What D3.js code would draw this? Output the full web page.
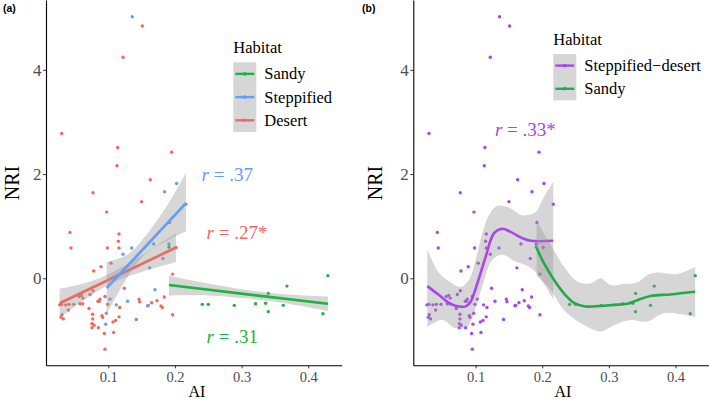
<!DOCTYPE html>
<html>
<head>
<meta charset="utf-8">
<script src="https://cdn.jsdelivr.net/npm/d3@7"></script>
<style>
  body { margin: 0; background: #fff; }
  text { font-family: "Liberation Serif", "Times New Roman", serif; }
</style>
</head>
<body>
<script>
// ---- data (AI, NRI) ----
let aiTicks = [0.1, 0.2, 0.3, 0.4];
let nriTicks = [0, 2, 4];

let desert = [
  [0.151,4.84],[0.122,4.24],[0.030,2.78],[0.114,2.51],[0.195,2.42],[0.113,2.16],[0.163,1.89],[0.077,1.64],
  [0.150,1.47],[0.0975,1.27],[0.192,1.07],[0.0425,0.88],[0.044,0.58],[0.116,0.85],[0.115,0.71],[0.116,0.58],
  [0.0985,0.58],[0.104,0.29],[0.089,0.22],[0.078,0.14],[0.124,-0.19],[0.2015,0.59],[0.1965,0.08],[0.1965,-0.70],
  [0.184,-0.36],[0.179,-0.53],[0.181,-0.56],[0.173,-0.43],[0.165,-0.47],[0.160,-0.52],[0.146,-0.40],[0.147,-0.45],
  [0.142,-0.79],[0.117,-0.56],[0.116,-0.74],[0.111,-0.81],[0.107,-0.84],[0.108,-1.04],[0.095,-1.36],[0.099,-0.50],
  [0.095,-0.35],[0.0875,-0.40],[0.0865,-0.44],[0.0905,-0.72],[0.0915,-0.75],[0.094,-1.06],[0.0845,-0.44],[0.085,-0.95],
  [0.0765,-0.69],[0.0765,-0.78],[0.0755,-0.95],[0.0785,-0.90],[0.071,-0.58],[0.0615,-0.49],[0.0575,-0.49],[0.0595,-0.33],
  [0.077,-0.24],[0.048,-0.50],[0.041,-0.50],[0.036,-0.51],[0.030,-0.50],[0.027,-0.51],[0.0305,-0.70],[0.029,-0.75],
  [0.0325,-0.78],[0.040,-0.61],[0.056,-0.35],[0.0755,-0.87],[0.0725,-0.31],[0.062,-0.38]
];
let steppified = [
  [0.136,5.02],[0.2025,1.82],[0.1845,1.66],[0.2165,1.42],[0.122,0.46],[0.135,0.58],[0.162,0.20],[0.168,0.66],
  [0.182,0.38],[0.191,0.66],[0.170,-0.22],[0.159,-0.53],[0.129,-0.44],[0.112,-0.51],[0.096,-0.88],[0.097,-0.67],
  [0.1025,-0.40]
];
let sandy = [
  [0.191,0.60],[0.241,-0.50],[0.250,-0.50],[0.289,-0.52],[0.321,-0.49],[0.336,-0.48],[0.340,-0.29],[0.340,-0.64],
  [0.3625,-0.52],[0.368,-0.15],[0.4295,0.05],[0.422,-0.68]
];

// panel (a): linear fits and their confidence bands
let desertFit = [[0.027,-0.48],[0.2015,0.59]];
let desertUp = [[0.027,-0.20],[0.06,-0.11],[0.09,0.02],[0.12,0.21],[0.15,0.44],[0.2015,0.87]];
let desertLo = [[0.027,-0.76],[0.06,-0.45],[0.09,-0.20],[0.12,-0.01],[0.15,0.12],[0.2015,0.31]];
let steppFit = [[0.0975,-0.19],[0.2165,1.44]];
let steppUp = [[0.0975,0.31],[0.13,0.46],[0.155,0.80],[0.19,1.43],[0.2165,2.02]];
let steppLo = [[0.0975,-0.69],[0.13,0.05],[0.155,0.46],[0.19,0.73],[0.2165,0.90]];
let sandyFit = [[0.191,-0.13],[0.4295,-0.49]];
let sandyUp = [[0.191,0.05],[0.25,-0.10],[0.31,-0.23],[0.37,-0.31],[0.4295,-0.35]];
let sandyLo = [[0.191,-0.33],[0.25,-0.33],[0.31,-0.39],[0.37,-0.49],[0.4295,-0.63]];

// panel (b): loess fits and bands
let sdLoess = [[0.0275,-0.15],[0.045,-0.32],[0.0625,-0.49],[0.075,-0.54],[0.085,-0.54],[0.0925,-0.45],[0.1025,-0.10],
  [0.115,0.41],[0.1275,0.86],[0.14,0.95],[0.1525,0.89],[0.17,0.77],[0.1825,0.72],[0.2165,0.72]];
let sdUp = [[0.0275,0.56],[0.045,0.10],[0.065,-0.10],[0.0775,-0.17],[0.09,-0.03],[0.1,0.35],[0.11,0.86],[0.12,1.21],
  [0.1325,1.39],[0.15,1.36],[0.17,1.21],[0.19,1.27],[0.2,1.5],[0.2165,1.85]];
let sdLo = [[0.0275,-0.93],[0.05,-0.80],[0.07,-0.96],[0.0875,-0.93],[0.0975,-0.67],[0.11,-0.16],[0.125,0.35],[0.14,0.45],
  [0.16,0.32],[0.18,0.22],[0.19,0.12],[0.2,-0.05],[0.2165,-0.40]];
let sandyLoess = [[0.1915,0.58],[0.2025,0.29],[0.2175,-0.03],[0.2325,-0.29],[0.2475,-0.47],[0.265,-0.54],[0.2875,-0.53],
  [0.3075,-0.51],[0.3275,-0.49],[0.3425,-0.42],[0.3625,-0.34],[0.3925,-0.31],[0.4295,-0.26]];
let sandyLUp = [[0.1915,1.12],[0.2025,0.86],[0.2175,0.54],[0.2325,0.22],[0.2525,-0.06],[0.2725,-0.10],[0.2875,0.0],
  [0.3025,-0.13],[0.3225,-0.11],[0.3425,-0.08],[0.3575,0.06],[0.3725,0.11],[0.4025,0.08],[0.4295,0.22]];
let sandyLLo = [[0.1915,0.05],[0.2125,-0.22],[0.2325,-0.61],[0.2575,-0.86],[0.2875,-1.02],[0.3075,-0.90],[0.3325,-0.80],
  [0.3575,-0.83],[0.3825,-0.67],[0.4295,-0.74]];

let legendA = ["Sandy", "Steppified", "Desert"];
let legendB = ["Steppified\u2212desert", "Sandy"];

// ---- colours ----
let cSandy = "#1DB33E", cStepp = "#619CFF", cDesert = "#F0695E", cSD = "#A845EC", cSandyB = "#22AA48";

let width = 709, height = 400;
let svg = d3.select("body").append("svg").attr("width", width).attr("height", height);

let y = d3.scaleLinear().domain([-1.67, 5.34]).range([365.3, 0]);

function bandPath(up, lo, x) {
  let ln = d3.line().x(d => x(d[0])).y(d => y(d[1])).curve(d3.curveCatmullRom.alpha(0.5));
  return ln(up) + "L" + ln(lo.slice().reverse()).slice(1) + "Z";
}

function drawAxes(x, left, yLabelX, xLabelX) {
  let gx = svg.append("g").attr("transform", `translate(0,${y.range()[0]})`)
    .call(d3.axisBottom(x).tickValues(aiTicks).tickFormat(d3.format("")).tickSize(3).tickPadding(3).tickSizeOuter(0));
  gx.attr("font-family", "'Liberation Serif', serif").attr("font-size", 14.5);
  gx.selectAll("text").attr("fill", "#4d4d4d");
  let gy = svg.append("g").attr("transform", `translate(${left},0)`)
    .call(d3.axisLeft(y).tickValues(nriTicks).tickFormat(d3.format("")).tickSize(3).tickPadding(1.5).tickSizeOuter(0));
  gy.attr("font-family", "'Liberation Serif', serif").attr("font-size", 17);
  gy.selectAll("text").attr("fill", "#4d4d4d");
  [gx, gy].forEach(g => {
    g.select(".domain").attr("stroke", "#000").attr("stroke-width", 1.1);
    g.selectAll(".tick line").attr("stroke", "#333");
  });
  svg.append("text").attr("transform", `translate(${yLabelX},183) rotate(-90)`)
    .attr("text-anchor", "middle").style("font-size", "20px").text("NRI");
  svg.append("text").attr("x", xLabelX).attr("y", 397)
    .attr("text-anchor", "middle").style("font-size", "16px").text("AI");
}

function drawPoints(data, x, color) {
  svg.append("g").selectAll("circle").data(data).enter().append("circle")
    .attr("cx", d => x(d[0])).attr("cy", d => y(d[1])).attr("r", 1.7).attr("fill", color);
}

function drawSmooth(fit, up, lo, x, color, curved) {
  svg.append("path").attr("d", bandPath(up, lo, x)).attr("fill", "#999").attr("opacity", 0.4);
  let ln = d3.line().x(d => x(d[0])).y(d => y(d[1]));
  if (curved) ln.curve(d3.curveCatmullRom.alpha(0.5));
  svg.append("path").attr("d", ln(fit)).attr("fill", "none").attr("stroke", color).attr("stroke-width", 2.6);
}

function drawLegend(x0, titleY, names, colors) {
  svg.append("text").attr("x", x0).attr("y", titleY).style("font-size", "16.5px").text("Habitat");
  let top = titleY + 9, step = 23.2;
  svg.append("rect").attr("x", x0).attr("y", top).attr("width", 23).attr("height", step * names.length)
    .attr("fill", "#d6d6d6");
  names.forEach((n, i) => {
    let cy = top + step / 2 + i * step;
    svg.append("line").attr("x1", x0 + 2).attr("x2", x0 + 21).attr("y1", cy).attr("y2", cy)
      .attr("stroke", colors[i]).attr("stroke-width", 2.4);
    svg.append("circle").attr("cx", x0 + 11.5).attr("cy", cy).attr("r", 1.8).attr("fill", colors[i]);
    svg.append("text").attr("x", x0 + 31).attr("y", cy + 5.5).style("font-size", "16.5px").text(n);
  });
}

function rLabel(x, ai, nri, rest, color) {
  let t = svg.append("text").attr("x", x(ai)).attr("y", y(nri)).attr("fill", color).style("font-size", "19px");
  t.append("tspan").style("font-style", "italic").text("r");
  t.append("tspan").text(" = " + rest);
}

// ---- panel (a) ----
let xA = d3.scaleLinear().domain([0.0065, 0.4502]).range([46, 341.7]);
drawPoints(desert, xA, cDesert);
drawPoints(steppified, xA, cStepp);
drawPoints(sandy, xA, cSandy);
drawSmooth(desertFit, desertUp, desertLo, xA, cDesert, false);
drawSmooth(steppFit, steppUp, steppLo, xA, cStepp, false);
drawSmooth(sandyFit, sandyUp, sandyLo, xA, cSandy, false);
drawAxes(xA, 46, 19, 197);
drawLegend(233.3, 53.3, legendA, [cSandy, cStepp, cDesert]);
rLabel(xA, 0.24, 1.87, ".37", cStepp);
rLabel(xA, 0.2475, 0.75, ".27*", cDesert);
rLabel(xA, 0.2475, -1.24, ".31", cSandy);
svg.append("text").attr("x", 3).attr("y", 11.5).style("font-family", "'Liberation Sans', Arial, sans-serif")
  .style("font-weight", "bold").style("font-size", "10.5px").text("(a)");

// ---- panel (b) ----
let xB = d3.scaleLinear().domain([0.0065, 0.4502]).range([413.3, 709]);
drawPoints(desert.concat(steppified), xB, cSD);
drawPoints(sandy, xB, cSandyB);
drawSmooth(sdLoess, sdUp, sdLo, xB, cSD, true);
drawSmooth(sandyLoess, sandyLUp, sandyLLo, xB, cSandyB, true);
drawAxes(xB, 413.3, 382, 563);
drawLegend(553.3, 45, legendB, [cSD, cSandyB]);
rLabel(xB, 0.129, 2.73, ".33*", cSD);
svg.append("text").attr("x", 362).attr("y", 11.5).style("font-family", "'Liberation Sans', Arial, sans-serif")
  .style("font-weight", "bold").style("font-size", "10.5px").text("(b)");
</script>
</body>
</html>
